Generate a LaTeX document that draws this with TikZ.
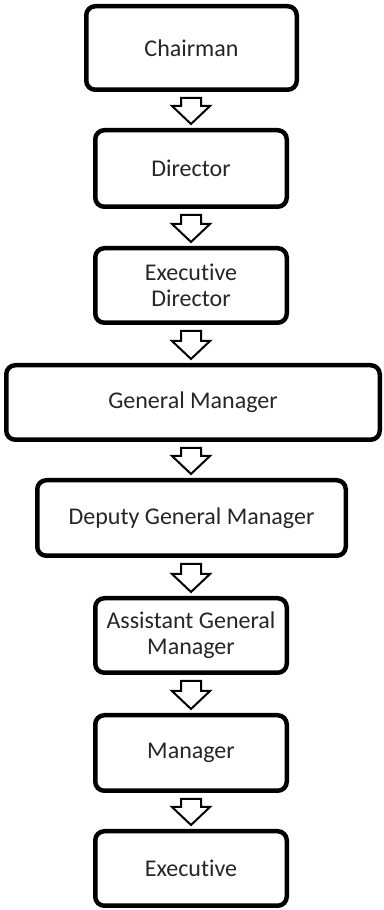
\documentclass[tikz,border=0pt]{standalone}
\usepackage{fontspec}
\setmainfont[RawFeature={-liga;-clig;-calt}]{Carlito}
\usetikzlibrary{calc}
\tikzset{
  box/.style={draw=black, line width=4.5pt, rounded corners=9pt, fill=white,
    align=center, inner sep=0pt, font=\fontsize{24}{26}\selectfont, text=black!85},
  blockarr/.style={draw=black, line width=2pt, fill=white, line join=miter}
}
\newcommand\blockarr[2]{%
  \draw[blockarr] let \p1=(#1.south), \p2=(#2.north) in
    (181pt,\y1-6pt) -- (201pt,\y1-6pt) -- (201pt,\y2+22pt) -- (210pt,\y2+22pt)
    -- (191pt,\y2+4pt) -- (172pt,\y2+22pt) -- (181pt,\y2+22pt) -- cycle;}
\newcommand\Exec{Execu\kern0pt tive}
\begin{document}
\begin{tikzpicture}[x=1pt,y=1pt]
\useasboundingbox (0,0) rectangle (383,910);
\node[box, minimum width=210.5pt, minimum height=83.5pt] (chair) at (191.5,862) {Chairman};
\node[box, minimum width=191.5pt, minimum height=76.5pt] (dir) at (191,741.5) {Director};
\node[box, minimum width=191.5pt, minimum height=74.5pt] (exdir) at (191,624.5) {\Exec\\Director};
\node[box, minimum width=373.5pt, minimum height=74.5pt] (gm) at (193,507.5) {General Manager};
\node[box, minimum width=308.5pt, minimum height=75.5pt] (dgm) at (191.5,392) {Deputy General Manager};
\node[box, minimum width=191.5pt, minimum height=74.5pt] (agm) at (191,274.5) {Assistant General\\Manager};
\node[box, minimum width=191.5pt, minimum height=75.5pt] (mgr) at (191,157) {Manager};
\node[box, minimum width=191.5pt, minimum height=74.5pt] (exec) at (191,41.5) {\Exec};
\blockarr{chair}{dir}
\blockarr{dir}{exdir}
\blockarr{exdir}{gm}
\blockarr{gm}{dgm}
\blockarr{dgm}{agm}
\blockarr{agm}{mgr}
\blockarr{mgr}{exec}
\end{tikzpicture}
\end{document}
